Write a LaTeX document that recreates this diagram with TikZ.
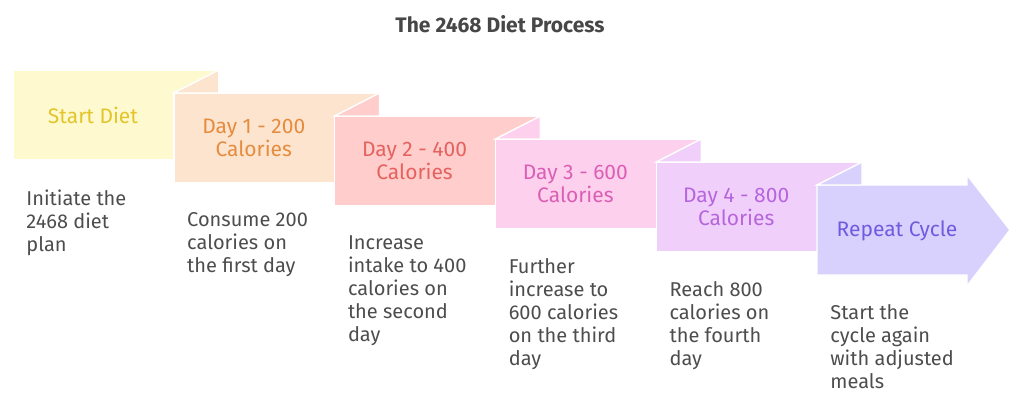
\documentclass[tikz,border=0pt]{standalone}
\usepackage{fontspec}
\setmainfont{Fira Sans}
\usetikzlibrary{positioning}
\definecolor{titlegray}{HTML}{474747}
\definecolor{descgray}{HTML}{4D4D4D}
\definecolor{fillA}{HTML}{FFF9CF}
\definecolor{textA}{HTML}{E3C52B}
\definecolor{fillB}{HTML}{FDE4CE}
\definecolor{textB}{HTML}{E58C3F}
\definecolor{fillC}{HTML}{FFCDCB}
\definecolor{textC}{HTML}{E5625F}
\definecolor{fillD}{HTML}{FDD0ED}
\definecolor{textD}{HTML}{DB5FB5}
\definecolor{fillE}{HTML}{F0D0FA}
\definecolor{textE}{HTML}{B665DD}
\definecolor{fillF}{HTML}{D9D1FD}
\definecolor{textF}{HTML}{6F5BE0}

\begin{document}
\begin{tikzpicture}[x=0.5pt,y=-0.5pt,
stepbox/.style={draw=white,line width=0.7pt},
lbl/.style={align=center,font=\fontsize{10.5}{11.5}\selectfont},
desc/.style={align=left,anchor=north west,inner sep=0pt,text=descgray,font=\fontsize{10}{11.5}\selectfont}]
\useasboundingbox (0,0) rectangle (1024,402);
\node [font=\bfseries\fontsize{10.5}{11}\selectfont,text=titlegray] (title) at (500,24) {The 2468 Diet Process};
% steps with folds
\foreach \i/\fc/\tc/\lab/\txt in {
 0/fillA/textA/{Start Diet}/{Initiate the\\2468 diet\\plan},
 1/fillB/textB/{Day 1 - 200\\Calories}/{Consume 200\\calories on\\the first day},
 2/fillC/textC/{Day 2 - 400\\Calories}/{Increase\\intake to 400\\calories on\\the second\\day},
 3/fillD/textD/{Day 3 - 600\\Calories}/{Further\\increase to\\600 calories\\on the third\\day},
 4/fillE/textE/{Day 4 - 800\\Calories}/{Reach 800\\calories on\\the fourth\\day}}
{
 \fill [stepbox,fill=\fc] ({13+160.8*\i},{70+23*\i}) rectangle ++(205,90);
 \ifnum\i>0
 \fill [stepbox,fill=\fc] ({13+160.8*\i},{70+23*\i}) -- ({58+160.8*\i},{47+23*\i}) -- ({58+160.8*\i},{70+23*\i}) -- cycle;
 \fi
 \node [lbl,text=\tc] (lbl\i) at ({93+160.8*\i},{115+23*\i}) {\lab};
 \node [desc] (desc\i) at ({26+160.8*\i},{189+23*\i}) {\txt};
}
% last step as arrow
\fill [stepbox,fill=fillF] (817,185) -- (967,185) -- (967,175) -- (1010,230) -- (967,286) -- (967,275) -- (817,275) -- cycle;
\fill [stepbox,fill=fillF] (817,185) -- (862,162) -- (862,185) -- cycle;
\node [lbl,text=textF] (lbl5) at (897,231) {Repeat Cycle};
\node [desc] (desc5) at (830,304) {Start the\\cycle again\\with adjusted\\meals};
\end{tikzpicture}
\end{document}
